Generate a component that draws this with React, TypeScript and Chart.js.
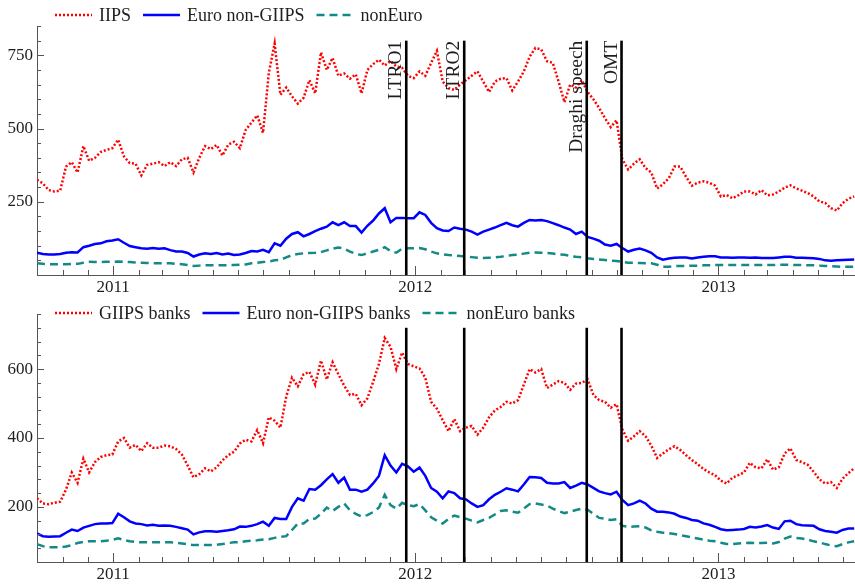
import React, { useEffect, useRef } from 'react';
import { Chart, registerables } from 'chart.js';

Chart.register(...registerables);

const DAY = 86400000;
const START = Date.UTC(2010, 9, 1);
const X_MAX = Date.UTC(2013, 5, 15);
// weekly observation dates (x categories)
const weekDates = Array.from({ length: 142 }, (_, i) => START + i * 7 * DAY);

// ---- top panel: sovereign series ----
const iips = [
  325, 313, 290, 285, 288, 370, 385, 350, 440, 390,
  400, 420, 427, 433, 462, 405, 382, 380, 340, 376,
  380, 385, 372, 385, 372, 395, 400, 350, 400, 440,
  430, 444, 408, 445, 455, 433, 495, 520, 545, 485,
  690, 790, 615, 640, 610, 585, 605, 665, 620, 760,
  700, 741, 680, 688, 670, 685, 620, 700, 720, 735,
  715, 730, 712, 707, 680, 672, 695, 680, 724, 765,
  660, 638, 632, 650, 665, 680, 695, 660, 625, 660,
  670, 672, 630, 660, 695, 745, 775, 770, 730, 724,
  660, 590, 650, 640, 665, 625, 600, 570, 535, 505,
  528, 395, 360, 380, 395, 365, 350, 295, 310, 330,
  370, 370, 335, 305, 315, 320, 315, 305, 268, 273,
  262, 272, 285, 285, 275, 290, 272, 275, 285, 298,
  306, 296, 288, 280, 268, 251, 246, 228, 220, 245,
  260, 268,
];
const euroNonGiips = [
  76, 72, 70, 70, 72, 76, 78, 77, 95, 100,
  106, 108, 115, 118, 122, 110, 99, 95, 91, 90,
  92, 90, 91, 85, 80, 80, 75, 63, 70, 74,
  72, 75, 70, 73, 68, 70, 75, 82, 80, 86,
  78, 108, 100, 124, 140, 146, 132, 140, 150, 158,
  165, 180, 170, 180, 167, 167, 145, 168, 186, 210,
  228, 180, 195, 195, 194, 194, 214, 205, 178, 160,
  152, 150, 162, 158, 155, 148, 138, 148, 155, 162,
  170, 178, 170, 165, 178, 188, 186, 188, 184, 177,
  170, 162, 155, 140, 148, 130, 124, 117, 104, 100,
  106, 92, 80, 86, 90, 84, 76, 60, 52, 56,
  59, 60, 60, 56, 60, 62, 64, 64, 60, 60,
  59, 60, 60, 59, 60, 58, 58, 58, 60, 62,
  62, 59, 59, 58, 57, 55, 50, 49, 50, 51,
  52, 53,
];
const nonEuro = [
  40, 38, 37, 37, 37, 37, 38, 38, 42, 45,
  44, 44, 45, 45, 46, 45, 44, 43, 42, 41,
  40, 40, 40, 40, 38, 37, 34, 31, 32, 33,
  33, 33, 33, 34, 34, 35, 36, 40, 42, 44,
  46, 50, 52, 60, 68, 72, 74, 75, 76, 78,
  84, 90, 94, 90, 80, 72, 68, 74, 80, 86,
  95, 82, 76, 90, 91, 91, 92, 88, 80, 74,
  71, 68, 67, 65, 63, 61, 59, 58, 59, 60,
  62, 65, 68, 70, 73, 76, 77, 76, 75, 73,
  71, 69, 65, 62, 60, 57, 55, 53, 51, 49,
  48, 45, 42, 42, 41, 40, 40, 35, 28, 28,
  30, 31, 31, 32, 32, 33, 33, 34, 34, 34,
  34, 34, 34, 34, 34, 34, 34, 34, 35, 35,
  35, 34, 34, 33, 33, 32, 31, 30, 29, 28,
  28, 28,
];

// ---- bottom panel: bank series ----
const giipsBanks = [
  225, 210, 208, 212, 215, 250, 300, 270, 340, 300,
  330, 345, 350, 352, 390, 400, 372, 380, 362, 385,
  372, 372, 378, 376, 368, 352, 320, 286, 295, 312,
  303, 315, 335, 350, 360, 384, 395, 390, 423, 385,
  460, 450, 430, 520, 575, 550, 585, 592, 555, 625,
  570, 620, 585, 552, 525, 528, 495, 515, 563, 615,
  690, 665, 600, 648, 615, 608, 602, 575, 505, 485,
  452, 420, 455, 420, 430, 435, 410, 430, 460, 480,
  490, 505, 500, 510, 555, 600, 590, 600, 545, 555,
  565, 560, 540, 558, 560, 570, 525, 510, 505, 488,
  498, 425, 392, 405, 420, 405, 378, 342, 355, 367,
  376, 365, 350, 336, 324, 310, 300, 292, 276, 268,
  285, 292, 300, 328, 315, 312, 338, 308, 315, 355,
  370, 336, 330, 322, 302, 280, 268, 272, 255, 282,
  298, 312,
];
const euroNonGiipsBanks = [
  123, 115, 113, 114, 115, 125, 134, 130, 140, 145,
  150, 152, 152, 153, 180, 170, 158, 152, 150, 146,
  148, 145, 146, 145, 142, 138, 134, 120, 126, 129,
  129, 128, 130, 132, 135, 143, 142, 145, 150, 157,
  145, 168, 165, 165, 200, 225, 218, 252, 250, 263,
  280, 295, 270, 285, 250, 250, 244, 250, 268, 290,
  350, 320, 300, 325, 318, 302, 314, 290, 255, 244,
  225, 245, 240, 225, 222, 210, 200, 205, 222, 235,
  244, 254, 250, 245, 265, 287, 286, 284, 270, 268,
  268, 272, 255, 262, 270, 265, 255, 245, 240, 236,
  244, 220, 205, 210, 218, 210, 195, 186, 186, 184,
  180, 172, 168, 162, 160, 152, 148, 142, 135, 132,
  133, 134, 136, 142, 140, 143, 147, 140, 136, 158,
  160, 150, 147, 146, 145, 135, 130, 128, 125, 133,
  137, 137,
];
const nonEuroBanks = [
  92, 86, 83, 83, 83, 85, 89, 95, 98, 100,
  100, 100, 102, 104, 109, 104, 100, 98, 97, 97,
  97, 97, 97, 97, 96, 94, 92, 89, 89, 89,
  89, 90, 92, 95, 97, 98, 100, 102, 103, 105,
  106, 110, 113, 115, 133, 152, 152, 165, 166, 180,
  198, 188, 200, 210, 190, 180, 172, 176, 185, 198,
  235, 205, 195, 212, 205, 202, 208, 190, 170, 160,
  152, 165, 175, 170, 166, 160, 155, 162, 168, 178,
  188, 190, 186, 183, 195, 208, 210, 207, 204, 195,
  188, 182, 186, 191, 195, 192, 180, 168, 166, 162,
  164, 145, 142, 143, 144, 140, 132, 128, 125, 124,
  121, 118, 115, 111, 108, 105, 102, 100, 96, 92,
  92, 94, 95, 96, 95, 95, 96, 94, 98, 108,
  114, 110, 108, 105, 100, 97, 92, 88, 86, 92,
  97, 100,
];

// ---- events ----
const eventDates = [
  Date.UTC(2011, 11, 21),
  Date.UTC(2012, 1, 29),
  Date.UTC(2012, 6, 26),
  Date.UTC(2012, 8, 6),
];
const eventLabels = ['LTRO1', 'LTRO2', 'Draghi speech', 'OMT'];

// ---- legends & ticks ----
const topSeriesNames = ['IIPS', 'Euro non-GIIPS', 'nonEuro'];
const bottomSeriesNames = ['GIIPS banks', 'Euro non-GIIPS banks', 'nonEuro banks'];
const topYLabels = [250, 500, 750];
const bottomYLabels = [200, 400, 600];

const FONT = '"Liberation Serif", "Times New Roman", serif';
const TEXT = '#1e1e1e';
const AXIS = '#555';
const RED = '#ff0000';
const BLUE = '#0000ff';
const TEAL = '#138a86';

const monthTicks: number[] = [];
for (let y = 2010, m = 9; ; ) {
  const v = Date.UTC(y, m, 1);
  if (v > X_MAX) break;
  monthTicks.push(v);
  m++;
  if (m > 11) { m = 0; y++; }
}

type Panel = {
  names: string[];
  series: number[][];
  yMin: number;
  yMax: number;
  yStep: number;
  yLabels: number[];
  eventTop: number;
  showEventLabels: boolean;
  padTop: number;
  xHeight: number;
  legendY: number;
};

const styles = [
  { color: RED, dash: [2, 2], width: 2.5 },
  { color: BLUE, dash: [] as number[], width: 2.5 },
  { color: TEAL, dash: [8, 5], width: 2.5 },
];

function makeConfig(p: Panel): any {
  const datasets: any[] = p.series.map((vals, k) => ({
    label: p.names[k],
    data: vals.map((v, i) => ({ x: weekDates[i], y: v })),
    borderColor: styles[k].color,
    borderDash: styles[k].dash,
    borderWidth: styles[k].width,
    borderCapStyle: 'butt',
    pointRadius: 0,
    tension: 0,
    fill: false,
    order: k + 1,
  }));
  eventDates.forEach((d, k) => {
    datasets.push({
      label: 'event-' + eventLabels[k],
      data: [{ x: d, y: p.yMin }, { x: d, y: p.eventTop }],
      borderColor: '#000',
      borderWidth: 2.6,
      pointRadius: 0,
      fill: false,
      order: 0,
    });
  });

  const panelPlugin = {
    id: 'panelDecor',
    afterDraw(chart: any) {
      const ctx = chart.ctx;
      const { bottom, left } = chart.chartArea;
      const xs = chart.scales.x;
      const ys = chart.scales.y;
      ctx.save();
      // inward tick marks
      ctx.strokeStyle = AXIS;
      ctx.lineWidth = 1;
      ctx.beginPath();
      xs.ticks.forEach((t: any) => {
        const px = Math.round(xs.getPixelForValue(t.value)) + 0.5;
        const major = new Date(t.value).getUTCMonth() === 0;
        const len = major ? 9 : 5;
        ctx.moveTo(px, bottom);
        ctx.lineTo(px, bottom - len);
      });
      ys.ticks.forEach((t: any) => {
        const py = Math.round(ys.getPixelForValue(t.value)) + 0.5;
        const major = p.yLabels.includes(t.value);
        const len = major ? 7 : 4;
        ctx.moveTo(left, py);
        ctx.lineTo(left + len, py);
      });
      ctx.stroke();

      // legend
      ctx.font = '18px ' + FONT;
      ctx.textBaseline = 'middle';
      ctx.textAlign = 'left';
      let x = 55;
      const y = p.legendY;
      p.names.forEach((name, k) => {
        ctx.save();
        ctx.strokeStyle = styles[k].color;
        ctx.lineWidth = styles[k].width;
        ctx.setLineDash(styles[k].dash);
        ctx.lineCap = 'butt';
        ctx.beginPath();
        ctx.moveTo(x, y);
        ctx.lineTo(x + 37, y);
        ctx.stroke();
        ctx.restore();
        ctx.fillStyle = TEXT;
        ctx.fillText(name, x + 44, y + 1);
        x += 44 + ctx.measureText(name).width + 12;
      });

      // event labels
      if (p.showEventLabels) {
        ctx.font = '19.5px ' + FONT;
        ctx.fillStyle = TEXT;
        eventDates.forEach((d, k) => {
          const px = xs.getPixelForValue(d);
          const py = ys.getPixelForValue(p.eventTop);
          ctx.save();
          ctx.translate(px - 10, py);
          ctx.rotate(-Math.PI / 2);
          ctx.textAlign = 'right';
          ctx.textBaseline = 'middle';
          ctx.fillText(eventLabels[k], 0, 0);
          ctx.restore();
        });
      }
      ctx.restore();
    },
  };

  return {
    type: 'line',
    data: { datasets },
    options: {
      responsive: false,
      animation: false,
      devicePixelRatio: 1,
      events: [],
      layout: { padding: { top: p.padTop, left: 0, right: 0, bottom: 0 } },
      plugins: { legend: { display: false }, tooltip: { enabled: false }, title: { display: false } },
      scales: {
        x: {
          type: 'linear',
          min: START,
          max: X_MAX,
          afterBuildTicks(scale: any) {
            scale.ticks = monthTicks.map((v) => ({ value: v }));
          },
          afterFit(scale: any) {
            scale.height = p.xHeight;
          },
          ticks: {
            autoSkip: false,
            maxRotation: 0,
            minRotation: 0,
            padding: 2,
            color: TEXT,
            font: { family: FONT, size: 17 },
            callback: (v: number) => {
              const d = new Date(v);
              return d.getUTCMonth() === 0 ? String(d.getUTCFullYear()) : '';
            },
          },
          grid: { display: false, drawTicks: false },
          border: { display: true, color: AXIS, width: 1 },
        },
        y: {
          type: 'linear',
          min: p.yMin,
          max: p.yMax,
          afterBuildTicks(scale: any) {
            const t: any[] = [];
            for (let v = p.yMin; v <= p.yMax + 1e-6; v += p.yStep) t.push({ value: v });
            scale.ticks = t;
          },
          afterFit(scale: any) {
            scale.width = 37;
          },
          ticks: {
            autoSkip: false,
            padding: 4,
            color: TEXT,
            font: { family: FONT, size: 17 },
            callback: (v: number) => (p.yLabels.includes(v) ? String(v) : ''),
          },
          grid: { display: false, drawTicks: false },
          border: { display: true, color: AXIS, width: 1 },
        },
      },
    },
    plugins: [panelPlugin],
  };
}

const topPanel: Panel = {
  names: topSeriesNames,
  series: [iips, euroNonGiips, nonEuro],
  yMin: 0,
  yMax: 850,
  yStep: 50,
  yLabels: topYLabels,
  eventTop: 800,
  showEventLabels: true,
  padTop: 26,
  xHeight: 21,
  legendY: 15,
};

const bottomPanel: Panel = {
  names: bottomSeriesNames,
  series: [giipsBanks, euroNonGiipsBanks, nonEuroBanks],
  yMin: 40,
  yMax: 760,
  yStep: 40,
  yLabels: bottomYLabels,
  eventTop: 720,
  showEventLabels: false,
  padTop: 18,
  xHeight: 26,
  legendY: 17,
};

function PanelChart({ panel, width, height }: { panel: Panel; width: number; height: number }) {
  const ref = useRef<HTMLCanvasElement | null>(null);
  useEffect(() => {
    if (!ref.current) return;
    const chart = new Chart(ref.current, makeConfig(panel));
    return () => chart.destroy();
  }, [panel]);
  return <canvas ref={ref} width={width} height={height} style={{ display: 'block', width, height }} />;
}

export default function App() {
  return (
    <div style={{ position: 'absolute', left: 0, top: 0, width: 855, height: 588, background: '#fff' }}>
      <PanelChart panel={topPanel} width={855} height={296} />
      <PanelChart panel={bottomPanel} width={855} height={292} />
    </div>
  );
}
